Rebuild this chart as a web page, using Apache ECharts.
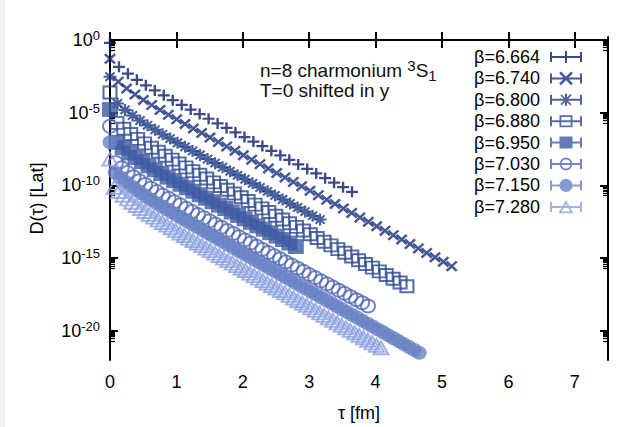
<!DOCTYPE html>
<html>
<head>
<meta charset="UTF-8">
<title>charmonium 3S1 correlators</title>
<style>
  html, body { margin: 0; padding: 0; background: #fff; }
  #chart { width: 644px; height: 427px; }
</style>
</head>
<body>
<div id="chart"></div>
<script src="https://cdn.jsdelivr.net/npm/echarts@6/dist/echarts.min.js"></script>
<script>
// legend names, one per ensemble
var betaNames = ['β=6.664', 'β=6.740', 'β=6.800', 'β=6.880', 'β=6.950', 'β=7.030', 'β=7.150', 'β=7.280'];
// lattice spacing in fm, tau = n * a
var latticeSpacing = [0.135, 0.1255, 0.113, 0.104, 0.0965, 0.0883, 0.0776, 0.0658];

// log10 D(tau), n = 0, 1, 2, ...
var logD_6664 = [-0.20, -1.85, -2.32, -2.74, -3.12, -3.47, -3.81, -4.14, -4.47, -4.79, -5.10, -5.42, -5.74, -6.05, -6.36, -6.68, -6.99, -7.30, -7.62, -7.93, -8.24, -8.56, -8.87, -9.18, -9.50, -9.81, -10.12, -10.44];
var logD_6740 = [-1.30, -2.87, -3.34, -3.75, -4.13, -4.48, -4.82, -5.15, -5.46, -5.78, -6.09, -6.40, -6.71, -7.01, -7.32, -7.62, -7.93, -8.23, -8.54, -8.84, -9.15, -9.45, -9.76, -10.06, -10.37, -10.67, -10.98, -11.28, -11.59, -11.89, -12.20, -12.50, -12.81, -13.11, -13.42, -13.72, -14.03, -14.33, -14.64, -14.94, -15.25, -15.55];
var logD_6800 = [-2.53, -4.37, -4.81, -5.19, -5.54, -5.87, -6.18, -6.49, -6.78, -7.07, -7.35, -7.63, -7.91, -8.19, -8.47, -8.75, -9.03, -9.31, -9.58, -9.86, -10.14, -10.41, -10.69, -10.97, -11.24, -11.52, -11.80, -12.08, -12.35];
var logD_6880 = [-3.62, -5.70, -6.11, -6.47, -6.80, -7.11, -7.41, -7.69, -7.96, -8.23, -8.50, -8.76, -9.02, -9.27, -9.53, -9.79, -10.04, -10.30, -10.56, -10.81, -11.07, -11.32, -11.58, -11.83, -12.09, -12.34, -12.60, -12.85, -13.10, -13.36, -13.61, -13.87, -14.12, -14.38, -14.63, -14.89, -15.14, -15.40, -15.65, -15.91, -16.16, -16.42, -16.67, -16.93];
var logD_6950 = [-4.78, -7.04, -7.42, -7.77, -8.08, -8.37, -8.65, -8.92, -9.18, -9.43, -9.67, -9.92, -10.16, -10.40, -10.64, -10.88, -11.12, -11.36, -11.59, -11.83, -12.07, -12.30, -12.54, -12.78, -13.01, -13.25, -13.49, -13.72, -13.96, -14.20];
var logD_7030 = [-5.94, -8.44, -8.79, -9.11, -9.41, -9.68, -9.94, -10.19, -10.43, -10.67, -10.89, -11.12, -11.34, -11.57, -11.79, -12.01, -12.22, -12.44, -12.66, -12.88, -13.10, -13.31, -13.53, -13.75, -13.96, -14.18, -14.40, -14.61, -14.83, -15.04, -15.26, -15.48, -15.69, -15.91, -16.13, -16.34, -16.56, -16.77, -16.99, -17.21, -17.42, -17.64, -17.86, -18.07, -18.29];
var logD_7150 = [-7.03, -9.12, -9.45, -9.75, -10.03, -10.29, -10.53, -10.77, -11.00, -11.22, -11.44, -11.65, -11.86, -12.07, -12.27, -12.48, -12.68, -12.88, -13.09, -13.29, -13.49, -13.69, -13.89, -14.10, -14.30, -14.50, -14.70, -14.90, -15.10, -15.30, -15.50, -15.70, -15.90, -16.10, -16.30, -16.50, -16.70, -16.90, -17.10, -17.30, -17.50, -17.70, -17.90, -18.10, -18.30, -18.50, -18.70, -18.90, -19.10, -19.30, -19.50, -19.70, -19.90, -20.10, -20.30, -20.50, -20.70, -20.90, -21.10, -21.30, -21.50];
var logD_7280 = [-8.19, -10.13, -10.42, -10.68, -10.93, -11.16, -11.38, -11.59, -11.79, -11.99, -12.18, -12.37, -12.55, -12.73, -12.91, -13.09, -13.27, -13.44, -13.62, -13.79, -13.96, -14.14, -14.31, -14.48, -14.65, -14.82, -15.00, -15.17, -15.34, -15.51, -15.68, -15.85, -16.03, -16.20, -16.37, -16.54, -16.71, -16.88, -17.05, -17.22, -17.39, -17.56, -17.74, -17.91, -18.08, -18.25, -18.42, -18.59, -18.76, -18.93, -19.10, -19.28, -19.45, -19.62, -19.79, -19.96, -20.13, -20.30, -20.47, -20.64, -20.82, -20.99, -21.16];

// tick labels
var xTicks = [0, 1, 2, 3, 4, 5, 6, 7];
var yMajorExp = [0, -5, -10, -15, -20];

var allLogD = [logD_6664, logD_6740, logD_6800, logD_6880, logD_6950, logD_7030, logD_7150, logD_7280];
var colors = ['#0a1f66', '#142e79', '#1d3a84', '#2c478f', '#3f5aa2', '#5269b1', '#6a82c4', '#8a9fe0'];
var FONT = 'Liberation Sans';

// gnuplot style log minor tics: 2..9 x 10^(n-1) under each major
var yMinor = [];
yMajorExp.forEach(function (m) {
    for (var k = 2; k <= 9; k++) yMinor.push(m - 1 + Math.log10(k));
});

// plot symbols (thick strokes like the gnuplot png terminal)
var plusPath = 'path://M-1,-0.2L1,-0.2L1,0.2L-1,0.2Z M-0.2,-1L0.2,-1L0.2,1L-0.2,1Z';
var crossPath = 'path://M-0.64,-0.92L0.92,0.64L0.64,0.92L-0.92,-0.64Z M-0.92,0.64L0.64,-0.92L0.92,-0.64L-0.64,0.92Z';
var starPath = 'path://M-1,-0.17L1,-0.17L1,0.17L-1,0.17Z M-0.17,-1L0.17,-1L0.17,1L-0.17,1Z ' +
    'M-0.58,-0.82L0.82,0.58L0.58,0.82L-0.82,-0.58Z M-0.82,0.58L0.58,-0.82L0.82,-0.58L-0.58,0.82Z';

var symbols = [
    { symbol: plusPath, size: [12, 11], hollow: false },
    { symbol: crossPath, size: [12, 11], hollow: false },
    { symbol: starPath, size: [13, 12], hollow: false },
    { symbol: 'rect', size: [13, 12], hollow: true },
    { symbol: 'rect', size: [16, 15], hollow: false },
    { symbol: 'circle', size: [14, 13], hollow: true },
    { symbol: 'circle', size: [15, 14], hollow: false },
    { symbol: 'triangle', size: [15, 13], hollow: true }
];

// legend icons: error bar with the point on it (32 x 14 box)
var errBar = 'M0,6L32,6L32,8L0,8Z M0,2L2,2L2,12L0,12Z M30,2L32,2L32,12L30,12Z ';
var legendMarks = [
    'M15,1L17,1L17,13L15,13Z',
    'M10.85,0.15L22.85,12.15L21.15,13.85L9.15,1.85Z M9.15,12.15L21.15,0.15L22.85,1.85L10.85,13.85Z',
    'M15,1L17,1L17,13L15,13Z M11.6,1.6L21.6,11.6L20.4,12.8L10.4,2.8Z M10.4,11.2L20.4,1.2L21.6,2.4L11.6,12.4Z',
    'M9.5,1L22.5,1L22.5,13L9.5,13Z M11.3,2.8L11.3,11.2L20.7,11.2L20.7,2.8Z',
    'M9.5,1L22.5,1L22.5,13L9.5,13Z',
    'M9.6,7A6.4,6.4 0 1,1 22.4,7A6.4,6.4 0 1,1 9.6,7Z M11.4,7A4.6,4.6 0 1,0 20.6,7A4.6,4.6 0 1,0 11.4,7Z',
    'M9.4,7A6.6,6.6 0 1,1 22.6,7A6.6,6.6 0 1,1 9.4,7Z',
    'M16,0.4L23.4,13.4L8.6,13.4Z M16,3.8L11.7,11.6L20.3,11.6Z'
];

var series = [];
var legendData = [];
allLogD.forEach(function (vals, i) {
    var pts = vals.map(function (v, n) { return [n * latticeSpacing[i], v]; });
    var s = symbols[i];
    series.push({
        name: betaNames[i],
        type: 'scatter',
        data: pts,
        symbol: s.symbol,
        symbolSize: s.size,
        clip: false,
        itemStyle: s.hollow
            ? { color: 'rgba(255,255,255,0)', borderColor: colors[i], borderWidth: 2 }
            : { color: colors[i], borderWidth: 0 },
        emphasis: { disabled: true }
    });
    legendData.push({
        name: betaNames[i],
        icon: 'path://' + errBar + legendMarks[i],
        itemStyle: { color: colors[i], borderWidth: 0, borderColor: 'rgba(0,0,0,0)' }
    });
});

var black = { color: '#000', width: 2 };
function yAxisBase(pos) {
    return {
        type: 'value', min: -22, max: 0.2, position: pos,
        splitLine: { show: false },
        axisLine: { show: false }, axisLabel: { show: false }, axisTick: { show: false }
    };
}

var yLeft = yAxisBase('left');
yLeft.axisLine = { show: true, lineStyle: black };
yLeft.axisTick = { show: true, inside: true, length: 8, customValues: yMajorExp, lineStyle: black };
yLeft.axisLabel = {
    show: true, margin: 10, customValues: yMajorExp,
    formatter: function (v) { return '{b|10}{s|' + v + '}'; },
    rich: {
        b: { fontFamily: FONT, fontSize: 18, lineHeight: 22, color: '#000' },
        s: { fontFamily: FONT, fontSize: 13, lineHeight: 13, verticalAlign: 'top', color: '#000' }
    }
};
yLeft.name = 'D(τ) [Lat]';
yLeft.nameLocation = 'middle';
yLeft.nameGap = 64;
yLeft.nameTextStyle = { fontFamily: FONT, fontSize: 18, color: '#000' };

var yLeftMinor = yAxisBase('left');
yLeftMinor.axisTick = { show: true, inside: true, length: 5, customValues: yMinor, lineStyle: { color: '#000', width: 1.2 } };

var yRight = yAxisBase('right');
yRight.axisLine = { show: true, lineStyle: black };
yRight.axisTick = { show: true, inside: true, length: 8, customValues: yMajorExp, lineStyle: black };

var yRightMinor = yAxisBase('right');
yRightMinor.axisTick = { show: true, inside: true, length: 5, customValues: yMinor, lineStyle: { color: '#000', width: 1.2 } };

var chart = echarts.init(document.getElementById('chart'), null, { renderer: 'svg' });
chart.setOption({
    animation: false,
    backgroundColor: '#fff',
    grid: { left: 110, right: 36, top: 37, bottom: 65 },
    legend: {
        orient: 'vertical',
        right: 57, top: 43,
        align: 'right',
        itemWidth: 32, itemHeight: 14, itemGap: 3.4,
        selectedMode: false,
        textStyle: { fontFamily: FONT, fontSize: 18, lineHeight: 18, color: '#000', padding: [0, 5, 0, 0] },
        data: legendData
    },
    xAxis: [
        {
            type: 'value', min: 0, max: 7.5, position: 'bottom',
            splitLine: { show: false },
            axisLine: { show: true, lineStyle: black },
            axisTick: { show: true, inside: true, length: 8, customValues: xTicks, lineStyle: black },
            axisLabel: { margin: 13, customValues: xTicks, fontFamily: FONT, fontSize: 18, color: '#000' },
            name: 'τ [fm]', nameLocation: 'middle', nameGap: 44,
            nameTextStyle: { fontFamily: FONT, fontSize: 18, color: '#000' }
        },
        {
            type: 'value', min: 0, max: 7.5, position: 'top',
            splitLine: { show: false },
            axisLine: { show: true, lineStyle: black },
            axisTick: { show: true, inside: true, length: 8, customValues: xTicks, lineStyle: black },
            axisLabel: { show: false }
        }
    ],
    yAxis: [yLeft, yLeftMinor, yRight, yRightMinor],
    graphic: [
        { type: 'rect', left: 0, top: 0, shape: { width: 5, height: 427 }, style: { fill: '#f2f2f2' }, z: -1 },
        {
            type: 'text', left: 260, top: 58,
            style: {
                text: '{t|n=8 charmonium }{sup|3}{t|S}{sub|1}',
                rich: {
                    t: { fontFamily: FONT, fontSize: 19, lineHeight: 25, fill: '#111' },
                    sup: { fontFamily: FONT, fontSize: 15, lineHeight: 14, verticalAlign: 'top', fill: '#111' },
                    sub: { fontFamily: FONT, fontSize: 15, lineHeight: 14, verticalAlign: 'bottom', fill: '#111' }
                }
            }
        },
        {
            type: 'text', left: 260, top: 81,
            style: { text: 'T=0 shifted in y', font: '19px "Liberation Sans"', fill: '#111' }
        }
    ],
    series: series
});
</script>
</body>
</html>
